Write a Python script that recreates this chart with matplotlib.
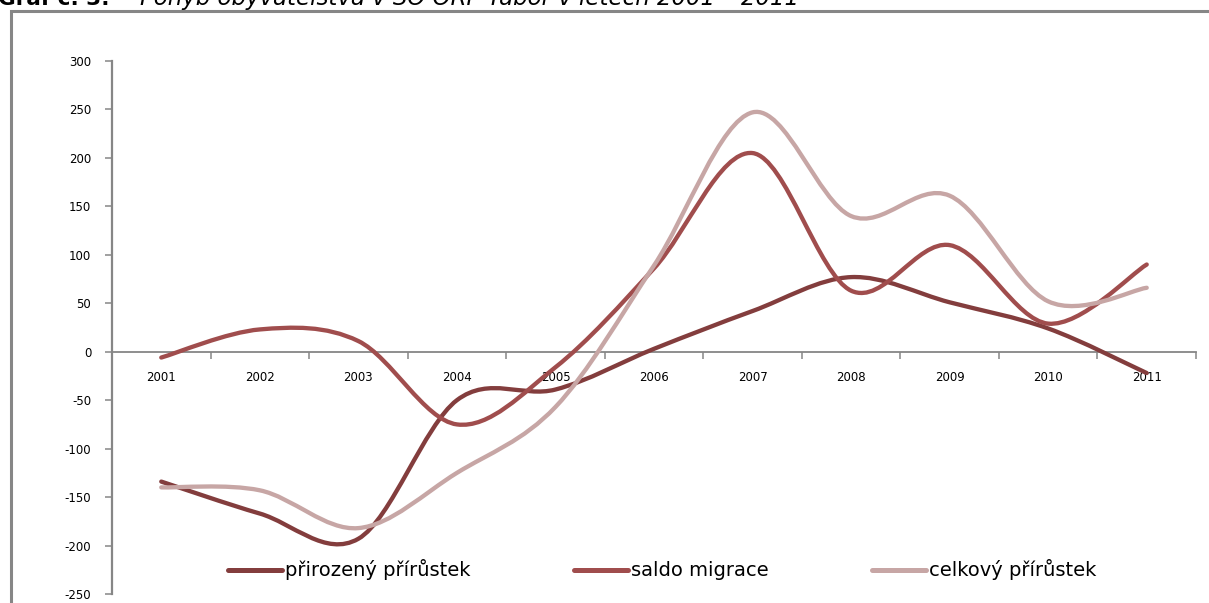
import matplotlib
matplotlib.use("Agg")
import matplotlib.pyplot as plt
from matplotlib.path import Path
from matplotlib.patches import PathPatch, Rectangle
from matplotlib.lines import Line2D
import numpy as np

plt.rcParams["axes.unicode_minus"] = False

years = ["2001", "2002", "2003", "2004", "2005", "2006", "2007", "2008", "2009", "2010", "2011"]
prirozeny = [-134, -167, -193, -50, -39, 3, 42, 77, 51, 24, -22]
saldo = [-6, 23, 11, -75, -16, 86, 205, 63, 110, 29, 90]
celkovy = [-140, -143, -182, -125, -57, 89, 247, 140, 161, 52, 66]

labels = ["přirozený přírůstek", "saldo migrace", "celkový přírůstek"]
colors = ["#833D3D", "#A04D4D", "#C7A6A5"]


def smooth_path(xs, ys):
    # excel-like smoothed line: bezier segments with catmull-rom control points
    pts = np.column_stack([xs, ys]).astype(float)
    n = len(pts)
    verts = [pts[0]]
    codes = [Path.MOVETO]
    for i in range(n - 1):
        p0 = pts[i - 1] if i > 0 else pts[i]
        p1 = pts[i]
        p2 = pts[i + 1]
        p3 = pts[i + 2] if i + 2 < n else pts[i + 1]
        c1 = p1 + (p2 - p0) / 6.0
        c2 = p2 - (p3 - p1) / 6.0
        verts += [c1, c2, p2]
        codes += [Path.CURVE4] * 3
    return Path(verts, codes)


fig = plt.figure(figsize=(12.09, 6.03), dpi=100)
fig.patch.set_facecolor("white")
ax = fig.add_axes([112 / 1209, 1 - 594 / 603, (1196 - 112) / 1209, (594 - 61) / 603])

x = np.arange(len(years))
for vals, c in zip([prirozeny, saldo, celkovy], colors):
    ax.add_patch(PathPatch(smooth_path(x, vals), fill=False, edgecolor=c,
                           lw=3.1, capstyle="round", joinstyle="round", zorder=3))

ax.set_xlim(-0.5, 10.5)
ax.set_ylim(-250, 300)
ax.set_yticks(np.arange(-250, 301, 50))
ax.set_xticks(x)
ax.set_xticklabels(years)
ax.set_xticks(np.arange(-0.5, 11, 1), minor=True)

gray = "#868686"
for s in ["top", "right"]:
    ax.spines[s].set_visible(False)
ax.spines["bottom"].set_position(("data", 0))
ax.spines["bottom"].set_color(gray)
ax.spines["bottom"].set_linewidth(1.3)
ax.spines["left"].set_color(gray)
ax.spines["left"].set_linewidth(1.6)

ax.tick_params(axis="x", which="major", length=0, pad=14, labelsize=8.5)
ax.tick_params(axis="x", which="minor", length=5, width=1.1, color=gray, direction="out")
ax.tick_params(axis="y", length=5, width=1.1, color=gray, direction="out", pad=10, labelsize=8.5)

handles = [Line2D([], [], color=c, lw=3.6, solid_capstyle="round") for c in colors]
fig.legend(handles, labels, loc="center", bbox_to_anchor=(662 / 1209, 1 - 570 / 603),
           ncol=3, frameon=False, fontsize=14, handlelength=2.8, handletextpad=0.15,
           columnspacing=5.3)

# grey frame around the chart area
fig.add_artist(Rectangle((11 / 1209, -0.05), 1.05, 1 - 11 / 603 + 0.05,
                         transform=fig.transFigure, fill=False, edgecolor=gray, lw=2.2))

# caption, cut off by the top edge as in the source
fig.text(-0.002, 1 - 5 / 603, "Graf č. 3:", fontsize=15.5, fontweight="bold", va="baseline")
fig.text(140 / 1209, 1 - 5 / 603, "Pohyb obyvatelstva v SO ORP Tábor v letech 2001 – 2011",
         fontsize=16.5, style="italic", va="baseline")

fig.savefig("out.png", dpi=100)
